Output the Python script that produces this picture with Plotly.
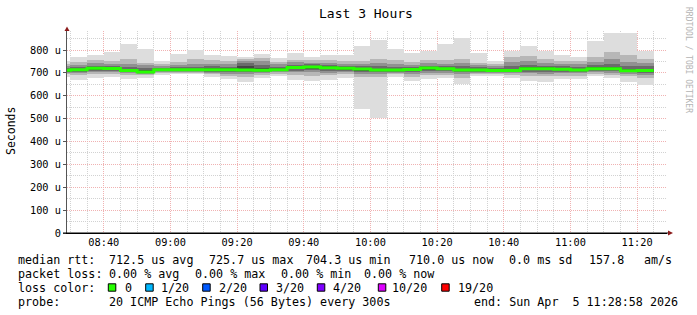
import plotly.graph_objects as go
import pandas as pd

# ---------------- data (microseconds) ----------------
bar_start = pd.date_range("2026-04-05 08:25", periods=36, freq="5min")
median = [712, 714, 720, 719, 710, 704, 714, 714, 714, 714, 714, 713, 711, 714, 723, 726, 722, 720,
          717, 713, 713, 715, 721, 718, 713, 713, 710, 710, 718, 718, 716, 713, 718, 718, 709, 710]
ping_min = [684, 671, 676, 682, 672, 677, 689, 694, 694, 683, 672, 662, 677, 686, 669, 664, 669, 677,
            541, 501, 683, 664, 673, 677, 650, 686, 686, 677, 664, 662, 672, 672, 686, 677, 662, 647]
ping_max = [752, 770, 778, 790, 826, 806, 752, 784, 799, 778, 774, 770, 784, 763, 788, 769, 778, 778,
            817, 844, 804, 788, 794, 826, 851, 788, 752, 796, 817, 794, 778, 769, 841, 876, 876, 794]
band2_lo = [694, 690, 695, 697, 690, 690, 698, 700, 701, 693, 686, 684, 690, 696, 690, 688, 690, 694,
            680, 682, 693, 684, 689, 692, 676, 694, 693, 690, 686, 685, 688, 688, 696, 692, 686, 676]
band2_hi = [740, 748, 755, 752, 760, 745, 738, 748, 760, 755, 752, 762, 765, 748, 758, 755, 757, 752,
            752, 760, 755, 748, 756, 755, 760, 745, 738, 770, 775, 760, 752, 750, 770, 790, 780, 760]
band3_lo = [700, 700, 703, 704, 698, 697, 703, 705, 706, 700, 697, 696, 699, 702, 702, 702, 701, 703,
            697, 697, 700, 695, 700, 700, 693, 700, 699, 698, 698, 697, 699, 698, 703, 700, 697, 692]
band3_hi = [730, 735, 742, 738, 741, 733, 730, 734, 738, 740, 738, 752, 750, 737, 746, 745, 745, 740,
            738, 742, 738, 735, 742, 740, 742, 733, 730, 748, 752, 742, 738, 738, 748, 760, 748, 742]
band4_lo = [705, 706, 710, 709, 703, 699, 707, 708, 709, 706, 704, 705, 704, 707, 710, 712, 709, 709,
            705, 704, 705, 703, 708, 707, 702, 705, 703, 703, 706, 706, 706, 704, 709, 707, 703, 700]
band4_hi = [722, 724, 731, 728, 727, 720, 723, 725, 726, 728, 727, 742, 736, 727, 736, 738, 735, 731,
            728, 728, 725, 726, 732, 730, 728, 724, 722, 730, 735, 730, 728, 727, 733, 740, 730, 728]
band5_lo = [708, 709, 714, 713, 706, 702, 710, 711, 711, 710, 709, 709, 707, 710, 716, 719, 715, 714,
            710, 708, 709, 709, 714, 712, 708, 709, 706, 706, 712, 712, 711, 709, 713, 712, 706, 705]
band5_hi = [716, 718, 725, 723, 717, 711, 718, 719, 719, 720, 720, 730, 720, 720, 729, 732, 728, 726,
            722, 719, 718, 720, 727, 723, 719, 718, 716, 716, 725, 724, 722, 719, 724, 726, 716, 718]

y_tickvals = [0, 100, 200, 300, 400, 500, 600, 700, 800]
y_ticktext = ["0", "100 u", "200 u", "300 u", "400 u", "500 u", "600 u", "700 u", "800 u"]

loss_labels = ["0", "1/20", "2/20", "3/20", "4/20", "10/20", "19/20"]
loss_colors = ["#26ff00", "#00b8ff", "#0059ff", "#5e00ff", "#7e00ff", "#dd00ff", "#ff0000"]

# ---------------- figure ----------------
W, H = 697, 315
ML, MR, MT, MB = 67, 30, 31, 82
PW, PH = W - ML - MR, H - MT - MB
Y0 = H - MB  # pixel of y=0


def px(x):
    return (x - ML) / PW


def py(y):
    return (Y0 - y) / PH


MONO = "DejaVu Sans Mono"
centers = bar_start + pd.Timedelta(minutes=2.5)
ends = list(bar_start) + [bar_start[-1] + pd.Timedelta(minutes=5)]

fig = go.Figure()
bands = [(ping_min, ping_max, "#dddddd"), (band2_lo, band2_hi, "#b7b7b7"),
         (band3_lo, band3_hi, "#919191"), (band4_lo, band4_hi, "#6b6b6b"),
         (band5_lo, band5_hi, "#454545")]
for lo, hi, col in bands:
    fig.add_trace(go.Bar(x=centers, base=lo, y=[h - l for l, h in zip(lo, hi)],
                         width=300000, marker=dict(color=col, line=dict(width=0)),
                         hoverinfo="skip", showlegend=False))
fig.add_trace(go.Scatter(x=ends, y=median + [median[-1]], mode="lines",
                         line=dict(color=loss_colors[0], width=3, shape="hv"),
                         hoverinfo="skip", showlegend=False))

MAJ = "#f0b2b2"
MIN = "#d2d2d2"
DASH = "1px,1px"
fig.update_layout(
    width=W, height=H, margin=dict(l=ML, r=MR, t=MT, b=MB),
    paper_bgcolor="white", plot_bgcolor="white", barmode="overlay", bargap=0,
    font=dict(family=MONO, color="black"),
    xaxis=dict(type="date", range=["2026-04-05 08:28:58", "2026-04-05 11:28:58"],
               tick0="2026-04-05 08:40", dtick=1200000, tickformat="%H:%M",
               showgrid=True, gridcolor=MAJ, griddash=DASH, gridwidth=1,
               minor=dict(dtick=300000, showgrid=True, gridcolor=MIN, griddash=DASH, gridwidth=1),
               showline=True, linecolor="black", linewidth=1, ticks="", zeroline=False,
               tickfont=dict(family=MONO, size=10.3, color="black")),
    yaxis=dict(range=[0, PH / 0.22875], tickvals=y_tickvals, ticktext=y_ticktext,
               showgrid=True, gridcolor=MAJ, griddash=DASH, gridwidth=1,
               minor=dict(dtick=50, showgrid=True, gridcolor=MIN, griddash=DASH, gridwidth=1),
               showline=True, linecolor="#555555", linewidth=1, ticks="outside", ticklen=3,
               tickcolor="#555555", zeroline=False,
               tickfont=dict(family=MONO, size=10.3, color="black")),
)

shapes = []
# axis arrows
shapes.append(dict(type="path", xref="paper", yref="paper", layer="above",
                   path=f"M {px(64.5)} {py(31)} L {px(69.5)} {py(31)} L {px(67)} {py(26.5)} Z",
                   fillcolor="#8b1a1a", line=dict(width=0)))
shapes.append(dict(type="path", xref="paper", yref="paper", layer="above",
                   path=f"M {px(668)} {py(230.5)} L {px(668)} {py(235.5)} L {px(673)} {py(233)} Z",
                   fillcolor="#8b1a1a", line=dict(width=0)))
shapes.append(dict(type="line", xref="paper", yref="paper", layer="above",
                   x0=px(63), x1=px(668), y0=py(233), y1=py(233), line=dict(color="black", width=1)))

ann = []


def text(x, y, s, size=11.7, anchor="left", color="black", angle=0):
    ann.append(dict(x=px(x), y=py(y), xref="paper", yref="paper", text=s, showarrow=False,
                    xanchor=anchor, yanchor="middle", textangle=angle,
                    font=dict(family=MONO, size=size, color=color)))


text(366, 14, "Last 3 Hours", size=13, anchor="center")
text(11, 131, "Seconds", size=11.5, anchor="center", angle=-90)
text(689, 60, "RRDTOOL / TOBI OETIKER", size=8, anchor="center", color="#b4b4b4", angle=90)

L1, L2, L3, L4 = 259.5, 273.5, 287.5, 301.5
for xx, s in [(16, "median rtt:"), (107, "712.5 us avg"), (207, "725.7 us max"), (304, "704.3 us min"),
              (407, "710.0 us now"), (507, "0.0 ms sd"), (587, "157.8"), (642, "am/s")]:
    text(xx, L1, s)
for xx, s in [(16, "packet loss:"), (107, "0.00 % avg"), (193, "0.00 % max"), (279, "0.00 % min"),
              (362, "0.00 % now")]:
    text(xx, L2, s)
text(16, L3, "loss color:")
box_x = [108.3, 145.7, 202.7, 260, 317.3, 378.3, 441.7]
lab_x = [123, 159, 217, 274, 331, 390, 456]
for bx, lx, lab, col in zip(box_x, lab_x, loss_labels, loss_colors):
    shapes.append(dict(type="rect", xref="paper", yref="paper", x0=px(bx), x1=px(bx + 7.5),
                       y0=py(L3 - 3.7), y1=py(L3 + 3.7), fillcolor=col, line=dict(color="black", width=1)))
    text(lx, L3, lab)
text(16, L4, "probe:")
text(107, L4, "20 ICMP Echo Pings (56 Bytes) every 300s")
text(680, L4, "end: Sun Apr  5 11:28:58 2026", anchor="right")

fig.update_layout(shapes=shapes, annotations=ann)
fig.write_html("out.html")
